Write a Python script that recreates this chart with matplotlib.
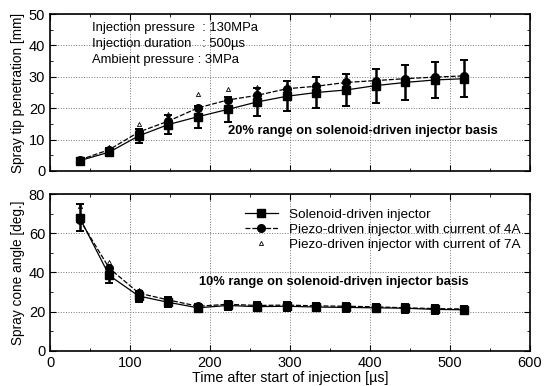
import matplotlib
matplotlib.use("Agg")
import matplotlib.pyplot as plt
from matplotlib.ticker import MultipleLocator

plt.rcParams['font.family'] = ['Liberation Sans', 'DejaVu Sans']

time_us = [37, 74, 111, 148, 185, 222, 259, 296, 333, 370, 407, 444, 481, 518]

# Spray tip penetration [mm]
pen_solenoid = [3.3, 6.0, 11.2, 14.8, 17.3, 19.6, 22.0, 23.8, 25.0, 25.8, 27.2, 28.2, 29.0, 29.4]
pen_piezo4 = [3.5, 6.8, 12.4, 15.9, 20.1, 22.6, 24.1, 26.2, 27.0, 28.2, 28.8, 29.4, 29.9, 30.3]
pen_piezo7 = [3.8, 7.6, 15.0, 18.0, 24.5, 26.0, 26.8, 27.5, 28.0, 28.8, 29.2, 29.8, 30.4, 30.8]
pen_err = [0.7, 1.2, 2.2, 3.0, 3.5, 3.9, 4.4, 4.8, 5.0, 5.2, 5.4, 5.6, 5.8, 5.9]

# Spray cone angle [deg.]
ang_solenoid = [68.0, 38.5, 28.0, 24.8, 22.0, 23.2, 22.6, 22.8, 22.4, 22.2, 22.0, 21.8, 21.2, 21.0]
ang_piezo4 = [67.0, 42.2, 29.5, 26.0, 22.8, 23.8, 23.2, 23.4, 23.0, 22.8, 22.5, 22.0, 21.6, 21.4]
ang_piezo7 = [74.0, 45.5, 31.0, 27.0, 23.5, 24.8, 24.5, 24.2, 23.8, 23.5, 23.4, 23.0, 22.8, 22.5]
ang_err = [6.8, 3.9, 2.8, 2.5, 2.2, 2.3, 2.3, 2.3, 2.2, 2.2, 2.2, 2.2, 2.1, 2.1]

legend_labels = ["Solenoid-driven injector",
                 "Piezo-driven injector with current of 4A",
                 "Piezo-driven injector with current of 7A"]

fig = plt.figure(figsize=(5.49, 3.86), dpi=100)
ax1 = fig.add_axes([0.0911, 0.557, 0.8743, 0.4067])
ax2 = fig.add_axes([0.0911, 0.0907, 0.8743, 0.4067])

def draw(ax, sol, p4, p7, err):
    ax.errorbar(time_us, sol, yerr=err, fmt='none', ecolor='black', elinewidth=1.8, capsize=3, capthick=1.4, zorder=3)
    h1, = ax.plot(time_us, sol, '-', color='black', lw=0.9, marker='s', ms=5.5, zorder=4)
    h2, = ax.plot(time_us, p4, '--', color='black', lw=0.9, dashes=(4, 1.5), marker='o', ms=5.5, zorder=4)
    h3, = ax.plot(time_us, p7, linestyle='none', color='black', marker='^', ms=3, mfc='none', mew=0.6, zorder=4)
    return h1, h2, h3

draw(ax1, pen_solenoid, pen_piezo4, pen_piezo7, pen_err)
hs = draw(ax2, ang_solenoid, ang_piezo4, ang_piezo7, ang_err)

for ax in (ax1, ax2):
    ax.set_xlim(0, 600)
    ax.xaxis.set_major_locator(MultipleLocator(100))
    ax.xaxis.set_minor_locator(MultipleLocator(50))
    ax.tick_params(which='both', direction='in', top=True, right=True, labelsize=10.5)
    ax.tick_params(which='major', length=4)
    ax.tick_params(which='minor', length=2)
    ax.grid(True, which='major', color='#777777', linestyle=':', linewidth=0.7)
    for s in ax.spines.values():
        s.set_linewidth(1.2)

ax1.set_ylim(0, 50)
ax1.yaxis.set_major_locator(MultipleLocator(10))
ax1.yaxis.set_minor_locator(MultipleLocator(5))
ax1.tick_params(labelbottom=False)
ax1.set_ylabel("Spray tip penetration [mm]", fontsize=9.8, labelpad=3)

ax2.set_ylim(0, 80)
ax2.yaxis.set_major_locator(MultipleLocator(20))
ax2.yaxis.set_minor_locator(MultipleLocator(10))
ax2.set_ylabel("Spray cone angle [deg.]", fontsize=9.8, labelpad=3)
ax2.set_xlabel("Time after start of injection [\u00b5s]", fontsize=10.3, labelpad=1)

ax1.text(0.088, 0.91, "Injection pressure  : 130MPa", transform=ax1.transAxes, fontsize=9.4, va='center')
ax1.text(0.088, 0.81, "Injection duration   : 500\u00b5s", transform=ax1.transAxes, fontsize=9.4, va='center')
ax1.text(0.088, 0.71, "Ambient pressure : 3MPa", transform=ax1.transAxes, fontsize=9.4, va='center')
ax1.text(0.37, 0.255, "20% range on solenoid-driven injector basis", transform=ax1.transAxes,
         fontsize=9.3, fontweight='bold', va='center')
ax2.text(0.31, 0.44, "10% range on solenoid-driven injector basis", transform=ax2.transAxes,
         fontsize=9.3, fontweight='bold', va='center')

ax2.legend(hs, legend_labels, loc='upper right', bbox_to_anchor=(1.0, 0.97), frameon=False,
           fontsize=9.7, handlelength=2.5, handletextpad=0.8, labelspacing=0.2, borderaxespad=0.3)

fig.savefig("out.png", dpi=100)
